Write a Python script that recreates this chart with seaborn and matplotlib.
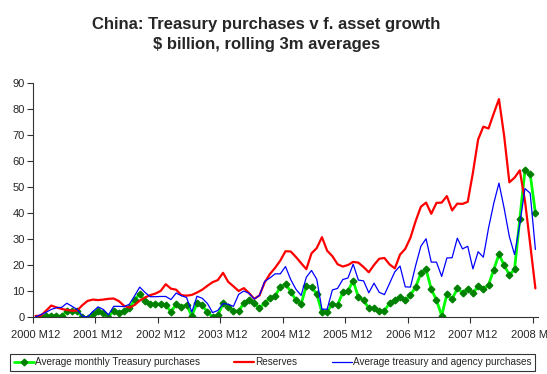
import numpy as np
import pandas as pd
import matplotlib
matplotlib.use("Agg")
import matplotlib.pyplot as plt
import seaborn as sns

# monthly, 2000 M12 .. 2008 M12, $ billion, rolling 3m averages
treasury = [-0.8, 0.1, 0.5, 0.5, 0.5, 0.3, 2.2, 2.2, 2.2, 0.0,
            -0.3, 1.0, 2.4, 1.7, 0.1, 2.4, 1.7, 2.4, 3.3, 6.7,
            8.8, 6.3, 5.0, 5.0, 5.0, 4.6, 2.0, 4.9, 4.0, 4.7,
            0.4, 5.3, 4.5, 1.9, 0.0, 0.6, 5.2, 3.9, 2.4, 2.2,
            5.4, 6.7, 5.5, 3.3, 5.4, 7.2, 8.0, 11.6, 12.7, 9.8,
            6.5, 5.0, 12.0, 11.6, 8.8, 1.8, 2.0, 5.0, 4.6, 9.5,
            10.1, 13.9, 7.6, 6.4, 3.4, 3.3, 2.2, 2.5, 5.3, 6.7,
            7.8, 6.4, 8.5, 11.5, 16.8, 18.3, 10.7, 6.5, 0.5, 8.8,
            6.8, 11.0, 9.4, 10.7, 9.1, 11.9, 10.7, 12.4, 18.2, 24.1,
            19.9, 16.2, 18.3, 37.7, 56.5, 55.0, 40.0]

reserves = [0.4, 0.5, 2.4, 4.4, 3.7, 3.1, 2.7, 2.4, 2.5, 4.6,
            6.2, 6.7, 6.5, 6.7, 7.0, 7.1, 6.1, 4.3, 3.6, 4.6,
            6.3, 7.5, 8.4, 9.0, 10.0, 12.6, 10.9, 10.5, 8.4, 8.2,
            8.5, 9.4, 10.5, 12.0, 13.4, 14.2, 17.0, 13.5, 11.8, 10.0,
            11.1, 9.2, 7.0, 8.3, 13.3, 16.5, 18.9, 21.7, 25.3, 25.2,
            23.1, 20.7, 18.4, 24.5, 26.5, 30.7, 25.5, 23.4, 20.3, 19.4,
            20.0, 21.2, 20.9, 19.2, 17.2, 20.0, 22.4, 22.7, 20.2, 18.7,
            24.0, 26.2, 30.5, 36.9, 42.4, 44.0, 39.7, 43.9, 44.0, 46.5,
            41.0, 43.6, 43.5, 44.3, 55.5, 68.3, 73.2, 72.5, 78.3, 83.8,
            69.6, 51.8, 53.6, 56.4, 44.6, 28.0, 11.0]

agency = [0.1, 0.9, 1.8, 2.9, 3.6, 3.7, 5.3, 4.1, 2.9, 0.3,
          0.0, 2.1, 3.9, 2.9, 0.8, 4.1, 4.1, 4.0, 4.9, 8.1,
          11.5, 9.5, 7.8, 7.8, 7.9, 7.9, 6.7, 9.2, 8.2, 7.5,
          1.9, 8.0, 7.2, 5.2, 1.7, 2.5, 5.2, 4.9, 4.1, 8.7,
          10.0, 9.1, 6.9, 8.3, 13.7, 15.0, 16.6, 16.6, 19.4, 14.4,
          10.7, 8.3, 15.3, 17.9, 14.5, 3.0, 3.0, 10.4, 11.0, 14.4,
          15.0, 20.3, 14.2, 13.9, 9.3, 13.0, 9.5, 8.6, 13.0, 17.4,
          19.6, 11.6, 11.5, 19.8, 27.2, 30.1, 21.1, 21.1, 15.6, 22.7,
          22.8, 30.3, 26.2, 27.2, 18.5, 25.1, 23.0, 34.2, 43.7, 51.5,
          41.8, 30.9, 24.0, 35.7, 49.4, 47.6, 26.0]

years = list(range(2000, 2009))
tick_labels = [f"{y} M12" for y in years]

names = ["Average monthly Treasury purchases", "Reserves",
         "Average treasury and agency purchases"]

df = pd.DataFrame({"month": np.arange(len(treasury)),
                   names[0]: treasury, names[1]: reserves, names[2]: agency})

sns.set_style("white")
plt.rcParams["font.family"] = ["Liberation Sans", "DejaVu Sans"]

fig = plt.figure(figsize=(5.47, 3.74), dpi=100)
ax = fig.add_axes([33 / 547, 1 - 317 / 374, 505 / 547, 234 / 374])

sns.lineplot(data=df, x="month", y=names[0], ax=ax, color="#00ff00", lw=2,
             marker="D", markersize=3.4, markerfacecolor="#008000",
             markeredgecolor="#008000", markeredgewidth=1, label=names[0])
sns.lineplot(data=df, x="month", y=names[1], ax=ax, color="#ff0000", lw=1.6,
             label=names[1])
sns.lineplot(data=df, x="month", y=names[2], ax=ax, color="#0000ff", lw=0.9,
             label=names[2])

n = len(treasury)
ax.set_xlim(-0.5, n - 0.5)
ax.set_ylim(0, 90)
ax.set_yticks(range(0, 91, 10))
ax.set_xticks(range(0, n, 12))
ax.set_xticklabels(tick_labels)
ax.set_xticks(np.arange(-0.5, n, 12), minor=True)
ax.tick_params(axis="x", which="major", length=0, pad=9, labelsize=8)
ax.tick_params(axis="x", which="minor", length=4, width=0.8, color="#333333",
               direction="out", bottom=True)
ax.tick_params(axis="y", length=4, width=0.8, color="#333333", direction="out",
               left=True, pad=2, labelsize=8)
ax.set_xlabel("")
ax.set_ylabel("")
for s in ["top", "right"]:
    ax.spines[s].set_visible(False)
for s in ["left", "bottom"]:
    ax.spines[s].set_color("#333333")
    ax.spines[s].set_linewidth(0.8)

ax.get_legend().remove()
h, l = ax.get_legend_handles_labels()
leg = fig.legend(h, l, loc="center", bbox_to_anchor=(10 / 547, 2 / 374, 525 / 547, 20 / 374),
                 mode="expand", ncol=3, fontsize=7.2, frameon=True, fancybox=False,
                 edgecolor="black", borderpad=0.35, handlelength=2.0,
                 handletextpad=0.15, columnspacing=2.8, borderaxespad=0)
leg.get_frame().set_linewidth(0.8)

fig.text(0.487, 1 - 34.6 / 374,
         "China: Treasury purchases v f. asset growth\n$ billion, rolling 3m averages",
         ha="center", va="center", fontsize=12, fontweight="bold", linespacing=1.35)

fig.savefig("out.png", dpi=100)
